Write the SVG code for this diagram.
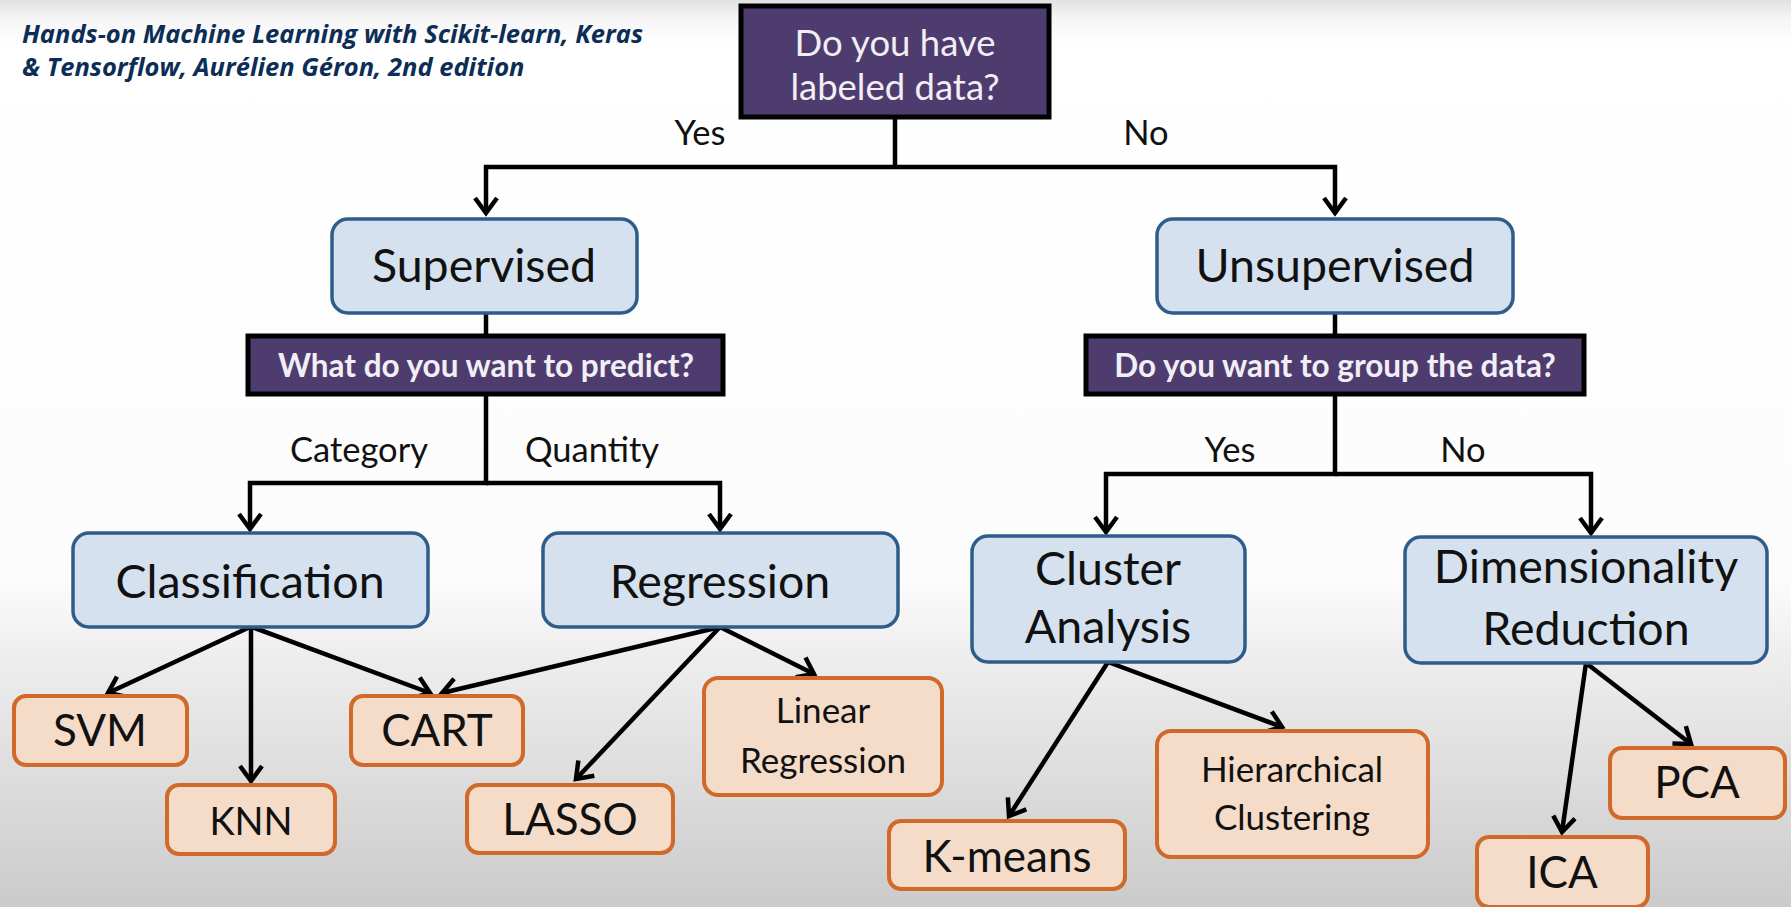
<svg xmlns="http://www.w3.org/2000/svg" width="1791" height="907" viewBox="0 0 1791 907">
  <defs>
    <linearGradient id="bg" x1="0" y1="0" x2="0" y2="1">
      <stop offset="0" stop-color="#e2e2e2"/>
      <stop offset="0.02" stop-color="#f5f5f5"/>
      <stop offset="0.05" stop-color="#ffffff"/>
      <stop offset="0.64" stop-color="#fcfcfc"/>
      <stop offset="0.72" stop-color="#eeeeee"/>
      <stop offset="1" stop-color="#cbcbcb"/>
    </linearGradient>
    <marker id="arrow" viewBox="-22 -16 27 32" refX="0" refY="0" markerWidth="27" markerHeight="32" markerUnits="userSpaceOnUse" orient="auto">
      <path d="M-15,-11 L0,0 L-15,11" fill="none" stroke="#000" stroke-width="4.5" stroke-linejoin="miter"/>
    </marker>
  </defs>
  <style>
    .title { font-family: "Open Sans", "Liberation Sans", sans-serif; font-weight: 700; font-style: italic; font-size: 25.5px; fill: #0c2d55; }
    .qbox { fill: #4f3c6e; stroke: #000; stroke-width: 5; }
    .qtext { font-family: Lato, "Open Sans", sans-serif; fill: #f1eef5; text-anchor: middle; }
    .qbig { font-size: 36.5px; }
    .qsmall { font-size: 31.5px; font-weight: 700; }
    .lbl { font-family: Lato, "Open Sans", sans-serif; font-size: 34.5px; fill: #111; text-anchor: middle; }
    .cat { fill: #d5e1ee; stroke: #2f5d8a; stroke-width: 3.5; }
    .cattext { font-family: Lato, "Open Sans", sans-serif; font-size: 46.5px; fill: #111; text-anchor: middle; }
    .leaf { fill: #f4dcc9; stroke: #d0692a; stroke-width: 4; }
    .leaftext { font-family: Lato, "Open Sans", sans-serif; font-size: 44px; fill: #111; text-anchor: middle; }
    .leafsmall { font-size: 35px; }
    .conn { fill: none; stroke: #000; stroke-width: 4.5; stroke-linejoin: miter; }
    .conn.arr { marker-end: url(#arrow); }
  </style>

  <rect x="0" y="0" width="1791" height="907" fill="url(#bg)"/>

  <!-- book reference -->
  <text class="title" x="22" y="43">Hands-on Machine Learning with Scikit-learn, Keras</text>
  <text class="title" x="22" y="76">&amp; Tensorflow, Aurélien Géron, 2nd edition</text>

  <!-- connectors -->
  <g id="connectors">
    <path class="conn" d="M895,117 V167"/>
    <path class="conn arr" d="M895,167 H486 V213"/>
    <path class="conn arr" d="M895,167 H1335 V213"/>

    <path class="conn" d="M486,313 V336"/>
    <path class="conn arr" d="M486,394 V483 H250 V529"/>
    <path class="conn arr" d="M486,483 H720 V529"/>

    <path class="conn" d="M1335,313 V336"/>
    <path class="conn arr" d="M1335,394 V474 H1106 V532"/>
    <path class="conn arr" d="M1335,474 H1591 V533"/>

    <path class="conn arr" d="M250,627 L108,693"/>
    <path class="conn arr" d="M251,627 L251,781"/>
    <path class="conn arr" d="M252,627 L430,693"/>

    <path class="conn arr" d="M720,627 L442,693"/>
    <path class="conn arr" d="M720,627 L576,779"/>
    <path class="conn arr" d="M720,627 L814,674"/>

    <path class="conn arr" d="M1108,662 L1009,816"/>
    <path class="conn arr" d="M1108,662 L1282,727"/>

    <path class="conn arr" d="M1586,663 L1562,832"/>
    <path class="conn arr" d="M1586,663 L1691,744"/>
  </g>

  <!-- branch labels -->
  <g id="labels">
    <text class="lbl" x="700" y="145">Yes</text>
    <text class="lbl" x="1146" y="145">No</text>
    <text class="lbl" x="359" y="462">Category</text>
    <text class="lbl" x="592" y="462">Quantity</text>
    <text class="lbl" x="1230" y="462">Yes</text>
    <text class="lbl" x="1463" y="462">No</text>
  </g>

  <g id="q-labeled">
    <rect class="qbox" x="741" y="6" width="308" height="111"/>
    <text class="qtext qbig" x="895" y="56">Do you have</text>
    <text class="qtext qbig" x="895" y="100">labeled data?</text>
  </g>

  <g id="supervised">
    <rect class="cat" x="332" y="219" width="305" height="94" rx="16"/>
    <text class="cattext" x="484" y="282">Supervised</text>
  </g>
  <g id="unsupervised">
    <rect class="cat" x="1157" y="219" width="356" height="94" rx="16"/>
    <text class="cattext" x="1335" y="282">Unsupervised</text>
  </g>

  <g id="q-predict">
    <rect class="qbox" x="248" y="336" width="475" height="58"/>
    <text class="qtext qsmall" x="486" y="377">What do you want to predict?</text>
  </g>
  <g id="q-group">
    <rect class="qbox" x="1086" y="336" width="498" height="58"/>
    <text class="qtext qsmall" x="1335" y="377">Do you want to group the data?</text>
  </g>

  <g id="classification">
    <rect class="cat" x="73" y="533" width="355" height="94" rx="16"/>
    <text class="cattext" x="250" y="598">Classification</text>
  </g>
  <g id="regression">
    <rect class="cat" x="543" y="533" width="355" height="94" rx="16"/>
    <text class="cattext" x="720" y="598">Regression</text>
  </g>
  <g id="cluster-analysis">
    <rect class="cat" x="972" y="536" width="273" height="126" rx="16"/>
    <text class="cattext" x="1108" y="585">Cluster</text>
    <text class="cattext" x="1108" y="643">Analysis</text>
  </g>
  <g id="dimensionality-reduction">
    <rect class="cat" x="1405" y="537" width="362" height="126" rx="16"/>
    <text class="cattext" x="1586" y="583">Dimensionality</text>
    <text class="cattext" x="1586" y="645">Reduction</text>
  </g>

  <g id="svm">
    <rect class="leaf" x="14" y="696" width="173" height="69" rx="12"/>
    <text class="leaftext" x="100" y="746">SVM</text>
  </g>
  <g id="knn">
    <rect class="leaf" x="167" y="785" width="168" height="69" rx="12"/>
    <text class="leaftext" x="251" y="835" style="font-size:38px">KNN</text>
  </g>
  <g id="cart">
    <rect class="leaf" x="351" y="696" width="172" height="69" rx="12"/>
    <text class="leaftext" x="437" y="746">CART</text>
  </g>
  <g id="lasso">
    <rect class="leaf" x="467" y="785" width="206" height="68" rx="12"/>
    <text class="leaftext" x="570" y="835">LASSO</text>
  </g>
  <g id="linear-regression">
    <rect class="leaf" x="704" y="678" width="238" height="117" rx="14"/>
    <text class="leaftext leafsmall" x="823" y="723">Linear</text>
    <text class="leaftext leafsmall" x="823" y="773">Regression</text>
  </g>
  <g id="k-means">
    <rect class="leaf" x="889" y="821" width="236" height="68" rx="12"/>
    <text class="leaftext" x="1007" y="872">K-means</text>
  </g>
  <g id="hierarchical-clustering">
    <rect class="leaf" x="1157" y="731" width="271" height="126" rx="14"/>
    <text class="leaftext leafsmall" x="1292" y="782">Hierarchical</text>
    <text class="leaftext leafsmall" x="1292" y="830">Clustering</text>
  </g>
  <g id="pca">
    <rect class="leaf" x="1610" y="748" width="175" height="70" rx="12"/>
    <text class="leaftext" x="1697" y="798">PCA</text>
  </g>
  <g id="ica">
    <rect class="leaf" x="1477" y="837" width="171" height="70" rx="12"/>
    <text class="leaftext" x="1562" y="888">ICA</text>
  </g>
</svg>
